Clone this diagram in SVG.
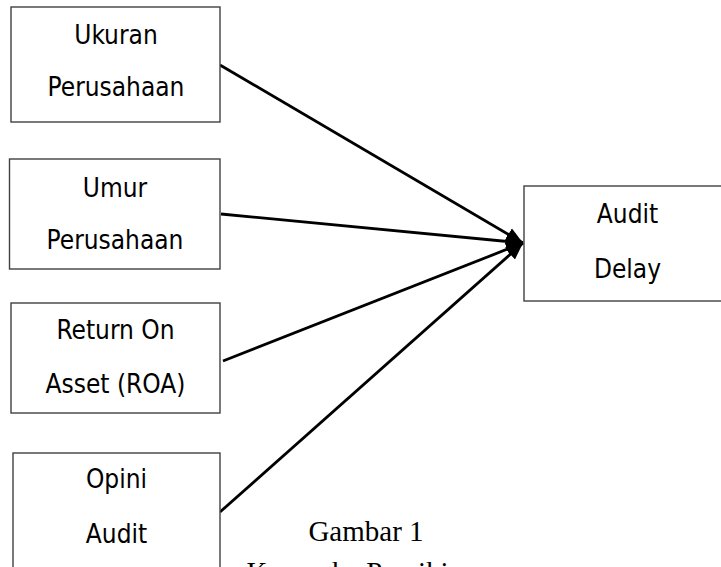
<svg xmlns="http://www.w3.org/2000/svg" width="721" height="567" viewBox="0 0 721 567">
<style>
.box{fill:#fff;stroke:#404040;stroke-width:1.4}
.lbl{font-family:"DejaVu Sans Condensed","DejaVu Sans",sans-serif;font-stretch:condensed;font-size:26px;fill:#000;text-anchor:middle}
.cap{font-family:"Liberation Serif","Times New Roman",serif;font-size:29px;fill:#000;text-anchor:middle}
.edge{stroke:#000;stroke-width:2.8;fill:none}
</style>
<defs>
<marker id="ah" markerUnits="userSpaceOnUse" markerWidth="18" markerHeight="14" viewBox="0 0 18 14" refX="17" refY="7" orient="auto">
<path d="M0,0 L17,7 L0,14 z" fill="#000"/>
</marker>
</defs>
<rect width="721" height="567" fill="#fff"/>
<g id="connectors">
<line class="edge" x1="220" y1="65" x2="523" y2="243" marker-end="url(#ah)"/>
<line class="edge" x1="221" y1="214" x2="523" y2="243" marker-end="url(#ah)"/>
<line class="edge" x1="223" y1="361" x2="523" y2="243" marker-end="url(#ah)"/>
<line class="edge" x1="220" y1="512" x2="523" y2="243" marker-end="url(#ah)"/>
</g>
<g id="ukuran">
<rect class="box" x="11" y="7" width="209" height="115"/>
<text class="lbl" x="116" y="44">Ukuran</text>
<text class="lbl" x="116" y="96">Perusahaan</text>
</g>
<g id="umur">
<rect class="box" x="9.5" y="159" width="210.5" height="110"/>
<text class="lbl" x="115" y="197">Umur</text>
<text class="lbl" x="115" y="249">Perusahaan</text>
</g>
<g id="roa">
<rect class="box" x="11" y="303" width="209" height="110"/>
<text class="lbl" x="115.5" y="339">Return On</text>
<text class="lbl" x="115.5" y="393">Asset (ROA)</text>
</g>
<g id="opini">
<rect class="box" x="13" y="453" width="207" height="130"/>
<text class="lbl" x="116.5" y="488">Opini</text>
<text class="lbl" x="116.5" y="543">Audit</text>
</g>
<g id="delay">
<rect class="box" x="524" y="186" width="210" height="115"/>
<text class="lbl" x="627.5" y="223">Audit</text>
<text class="lbl" x="627.5" y="278">Delay</text>
</g>
<g id="caption">
<text class="cap" x="366" y="541">Gambar 1</text>
<text class="cap" x="366" y="582">Kerangka Pemikiran</text>
</g>
</svg>
